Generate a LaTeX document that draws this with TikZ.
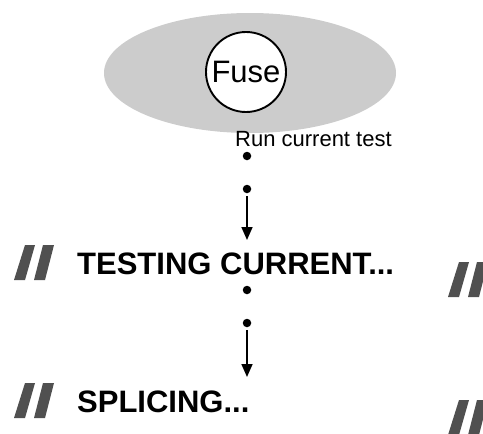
\documentclass[tikz,border=0pt]{standalone}
\usepackage{fontspec}
\setmainfont{Liberation Sans}
\usetikzlibrary{shapes.geometric,arrows.meta}
\definecolor{blobgray}{HTML}{CCCCCC}
\definecolor{quotegray}{HTML}{505050}
\tikzset{
  blob/.style={ellipse,fill=blobgray,draw=none,minimum width=292pt,minimum height=120pt,inner sep=0pt},
  fusecirc/.style={circle,draw=black,fill=white,line width=1.9pt,minimum size=80pt,inner sep=0pt,font=\fontsize{31}{32}\selectfont},
  dotnode/.style={circle,fill=black,minimum size=8.5pt,inner sep=0pt},
  steplabel/.style={anchor=base west,inner sep=0pt,font=\fontsize{31}{34}\selectfont\bfseries},
  smalllabel/.style={anchor=base west,inner sep=0pt,font=\fontsize{22}{24}\selectfont},
  flowarrow/.style={line width=1.6pt,-{Triangle[length=13pt,width=11pt]}},
  quotebar/.style={fill=quotegray,draw=none}
}
\begin{document}
\begin{tikzpicture}[x=1pt,y=-1pt]
\useasboundingbox (0,0) rectangle (483,434);
\node[blob] (blob) at (250,73) {};
\node[fusecirc] (fuse) at (246,72) {Fuse};
\node[smalllabel] (run) at (235,146) {Run current test};
\node[dotnode] (d1) at (247,156) {};
\node[dotnode] (d2) at (247,189) {};
\coordinate (a1) at (247,240);
\node[steplabel] (testing) at (77,274) {TESTING CURRENT...};
\node[dotnode] (d3) at (247,290) {};
\node[dotnode] (d4) at (247,323) {};
\coordinate (a2) at (247,377);
\node[steplabel] (splicing) at (77,412) {SPLICING...};
\draw[flowarrow,shorten <=3pt] (d2) -- (a1);
\draw[flowarrow,shorten <=3pt] (d4) -- (a2);
% quote marks
\foreach \dx/\dy in {0/0, 0/138, 434/17, 434/155}{
  \fill[quotegray] (25+\dx,245+\dy) -- (35+\dx,245+\dy) -- (25+\dx,280+\dy) -- (14+\dx,280+\dy) -- cycle;
  \fill[quotegray] (43+\dx,245+\dy) -- (54+\dx,245+\dy) -- (45+\dx,280+\dy) -- (34+\dx,280+\dy) -- cycle;
}
\end{tikzpicture}
\end{document}
